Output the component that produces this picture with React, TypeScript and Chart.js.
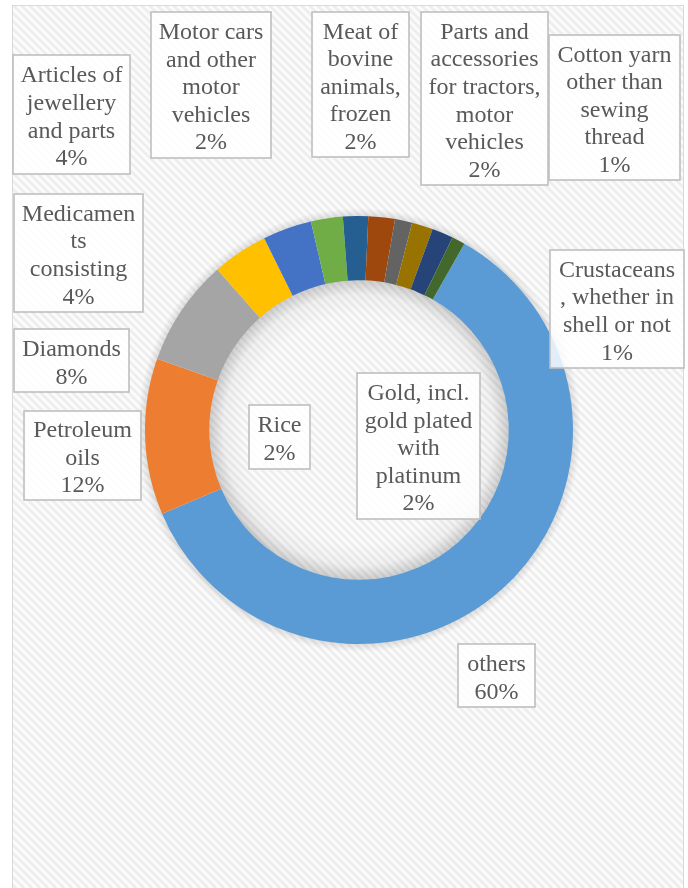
import React, { useEffect, useRef } from "react";
import { Chart, registerables } from "chart.js";

Chart.register(...registerables);

// Category names (already wrapped as they appear in the callouts)
const categories: string[][] = [
  ["others"],
  ["Petroleum", "oils"],
  ["Diamonds"],
  ["Medicamen", "ts", "consisting"],
  ["Articles of", "jewellery", "and parts"],
  ["Motor cars", "and other", "motor", "vehicles"],
  ["Meat of", "bovine", "animals,", "frozen"],
  ["Parts and", "accessories", "for tractors,", "motor", "vehicles"],
  ["Cotton yarn", "other than", "sewing", "thread"],
  ["Gold, incl.", "gold plated", "with", "platinum"],
  ["Rice"],
  ["Crustaceans", ", whether in", "shell or not"],
];

// Share of exports (%)
const shares: number[] = [60.4, 11.8, 8.1, 4.2, 3.7, 2.4, 1.9, 2.0, 1.3, 1.6, 1.6, 1.0];

const palette: string[] = [
  "#5B9BD5", "#ED7D31", "#A5A5A5", "#FFC000", "#4472C4", "#70AD47",
  "#255E91", "#9E480E", "#636363", "#997300", "#264478", "#43682B",
];

// Callout box rectangles [left, top, right, bottom]
const calloutBoxes: number[][] = [
  [458, 644, 535, 707],
  [24, 411, 141, 500],
  [14, 329, 129, 392],
  [14, 194, 143, 312],
  [13, 55, 130, 174],
  [151, 12, 271, 158],
  [312, 12, 409, 157],
  [421, 12, 548, 185],
  [549, 35, 680, 180],
  [357, 373, 480, 519],
  [249, 405, 310, 469],
  [550, 250, 684, 368],
];

const W = 688;
const H = 888;

const backgroundPlugin = {
  id: "bgHatch",
  beforeDraw(chart: any) {
    const ctx = chart.ctx as CanvasRenderingContext2D;
    ctx.save();
    ctx.fillStyle = "#ffffff";
    ctx.fillRect(0, 0, W, H);
    const fx = 12, fy = 5, fw = 671, fh = 900;
    ctx.beginPath();
    ctx.rect(fx, fy, fw, fh);
    ctx.clip();
    ctx.fillStyle = "#fbfbfb";
    ctx.fillRect(fx, fy, fw, fh);
    ctx.strokeStyle = "#ededed";
    ctx.lineWidth = 2.6;
    for (let c = -H; c < W + H; c += 8) {
      ctx.beginPath();
      ctx.moveTo(c, 0);
      ctx.lineTo(c + H, H);
      ctx.stroke();
    }
    ctx.restore();
    ctx.save();
    ctx.strokeStyle = "#d9d9d9";
    ctx.lineWidth = 1;
    ctx.strokeRect(fx + 0.5, fy + 0.5, fw, fh);
    ctx.restore();
  },
  beforeDatasetsDraw(chart: any) {
    const arc = chart.getDatasetMeta(0).data[0];
    if (!arc) return;
    const { x, y, innerRadius, outerRadius } = arc.getProps(["x", "y", "innerRadius", "outerRadius"], true);
    const ctx = chart.ctx as CanvasRenderingContext2D;
    ctx.save();
    // inner shading of the hole
    const g = ctx.createRadialGradient(x, y, innerRadius - 36, x, y, innerRadius);
    g.addColorStop(0, "rgba(0,0,0,0)");
    g.addColorStop(0.6, "rgba(0,0,0,0.04)");
    g.addColorStop(1, "rgba(0,0,0,0.18)");
    ctx.fillStyle = g;
    ctx.beginPath();
    ctx.arc(x, y, innerRadius + 1, 0, Math.PI * 2);
    ctx.fill();
    // soft outer shadow
    const g2 = ctx.createRadialGradient(x, y, outerRadius - 1, x, y, outerRadius + 8);
    g2.addColorStop(0, "rgba(0,0,0,0.12)");
    g2.addColorStop(1, "rgba(0,0,0,0)");
    ctx.fillStyle = g2;
    ctx.beginPath();
    ctx.arc(x, y, outerRadius + 8, 0, Math.PI * 2);
    ctx.arc(x, y, outerRadius - 1, 0, Math.PI * 2, true);
    ctx.fill();
    ctx.restore();
  },
};

const calloutPlugin = {
  id: "callouts",
  afterDatasetsDraw(chart: any) {
    const ctx = chart.ctx as CanvasRenderingContext2D;
    const data = chart.data.datasets[0].data as number[];
    const labels = chart.data.labels as string[][];
    const total = data.reduce((a, b) => a + b, 0);
    const lh = 27.6;
    ctx.save();
    ctx.font = '24px "Liberation Serif", "Times New Roman", serif';
    ctx.textAlign = "center";
    ctx.textBaseline = "middle";
    data.forEach((v, i) => {
      const [l, t, r, b] = calloutBoxes[i];
      const lines = [...labels[i], Math.round((v / total) * 100) + "%"];
      ctx.fillStyle = "rgba(255,255,255,0.82)";
      ctx.fillRect(l, t, r - l, b - t);
      ctx.strokeStyle = "#bfbfbf";
      ctx.lineWidth = 1.6;
      ctx.strokeRect(l, t, r - l, b - t);
      const off = (b - t - lines.length * lh) / 2;
      const cx = (l + r) / 2;
      ctx.fillStyle = "#595959";
      lines.forEach((s, k) => {
        ctx.fillText(s, cx, t + off + lh * (k + 0.5) + 3);
      });
    });
    ctx.restore();
  },
};

export default function App() {
  const ref = useRef<HTMLCanvasElement | null>(null);
  useEffect(() => {
    if (!ref.current) return;
    const chart = new Chart(ref.current, {
      type: "doughnut",
      data: {
        labels: categories as any,
        datasets: [
          {
            data: shares,
            backgroundColor: palette,
            borderWidth: 0,
          },
        ],
      },
      options: {
        responsive: false,
        animation: false,
        devicePixelRatio: 1,
        rotation: 29.5,
        cutout: "70%",
        layout: { padding: { left: 145, right: 115, top: 216, bottom: 244 } },
        plugins: {
          legend: { display: false },
          tooltip: { enabled: false },
        },
      },
      plugins: [backgroundPlugin, calloutPlugin],
    });
    return () => chart.destroy();
  }, []);
  return (
    <div style={{ position: "absolute", left: 0, top: 0, width: W, height: H, overflow: "hidden" }}>
      <canvas ref={ref} width={W} height={H} style={{ display: "block" }} />
    </div>
  );
}
